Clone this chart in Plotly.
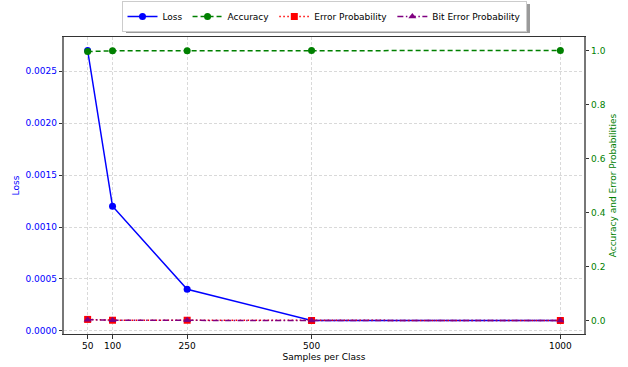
import plotly.graph_objects as go

samples = [50, 100, 250, 500, 1000]
loss = [0.0027, 0.0012, 0.0004, 0.0001, 0.0001]
accuracy = [0.996, 0.999, 0.999, 1.0, 1.0]
error_prob = [0.004, 0.001, 0.001, 0.0, 0.0]
bit_error_prob = [0.003, 0.001, 0.0005, 0.0, 0.0]

loss_ticks = [0.0, 0.0005, 0.0010, 0.0015, 0.0020, 0.0025]
prob_ticks = [0.0, 0.2, 0.4, 0.6, 0.8, 1.0]

FONT = "DejaVu Sans"
W, H = 628, 367
L, R, T, B = 64, 44, 37, 33
pw, ph = W - L - R, H - T - B

fig = go.Figure()
fig.add_trace(go.Scatter(x=samples, y=loss, name="Loss", mode="lines+markers",
                         line=dict(color="blue", width=1.5),
                         marker=dict(symbol="circle", size=7, color="blue"), yaxis="y"))
fig.add_trace(go.Scatter(x=samples, y=accuracy, name="Accuracy", mode="lines+markers",
                         line=dict(color="green", width=1.5, dash="5px,3px"),
                         marker=dict(symbol="circle", size=7, color="green"), yaxis="y2"))
fig.add_trace(go.Scatter(x=samples, y=error_prob, name="Error Probability", mode="lines+markers",
                         line=dict(color="red", width=1.5, dash="1.5px,2.5px"),
                         marker=dict(symbol="square", size=7, color="red"), yaxis="y2"))
fig.add_trace(go.Scatter(x=samples, y=bit_error_prob, name="Bit Error Probability", mode="lines+markers",
                         line=dict(color="purple", width=1.5, dash="6px,2.5px,1.5px,2.5px"),
                         marker=dict(symbol="triangle-up", size=7, color="purple"), yaxis="y2"))

def px(xp):
    return (xp - L) / pw

def py(yp):
    return (H - B - yp) / ph

fig.add_shape(type="rect", xref="paper", yref="paper",
              x0=px(126), x1=px(530), y0=py(33), y1=py(4),
              fillcolor="#9a9a9a", line=dict(width=0), layer="above")

grid = dict(showgrid=True, gridcolor="#d9d9d9", griddash="3px,2px", gridwidth=0.8)

fig.update_layout(
    width=W, height=H,
    margin=dict(l=L, r=R, t=T, b=B, autoexpand=False),
    paper_bgcolor="white", plot_bgcolor="white",
    font=dict(family=FONT, size=9, color="black"),
    showlegend=True,
    legend=dict(orientation="h", x=0.5, xanchor="center", yref="container", y=0.997, yanchor="top",
                bgcolor="white", bordercolor="#cccccc", borderwidth=1,
                font=dict(family=FONT, size=9), itemwidth=30, tracegroupgap=0),
    xaxis=dict(range=[2.5, 1047.5], tickvals=samples, ticktext=[str(s) for s in samples],
               title=dict(text="Samples per Class", font=dict(size=9), standoff=3),
               ticks="outside", ticklen=3.5, tickcolor="#333",
               showline=True, linecolor="#333", linewidth=1, mirror=True, zeroline=False, **grid),
    yaxis=dict(range=[-0.00003, 0.00283], tickvals=loss_ticks, tickformat=".4f",
               title=dict(text="Loss", font=dict(color="blue", size=9), standoff=4),
               tickfont=dict(color="blue"),
               ticks="outside", ticklen=3.5, tickcolor="#333",
               showline=True, linecolor="#777", linewidth=1.5, zeroline=False, **grid),
    yaxis2=dict(range=[-0.05, 1.05], tickvals=prob_ticks, tickformat=".1f",
                overlaying="y", side="right",
                title=dict(text="Accuracy and Error Probabilities", font=dict(color="green", size=9), standoff=5),
                tickfont=dict(color="green"), showgrid=False,
                ticks="outside", ticklen=3.5, tickcolor="#333",
                showline=True, linecolor="#777", linewidth=1.5, zeroline=False),
)

fig.write_html("out.html", config={"displayModeBar": False},
               post_script="document.body.style.margin='0';document.body.style.overflow='hidden';")
